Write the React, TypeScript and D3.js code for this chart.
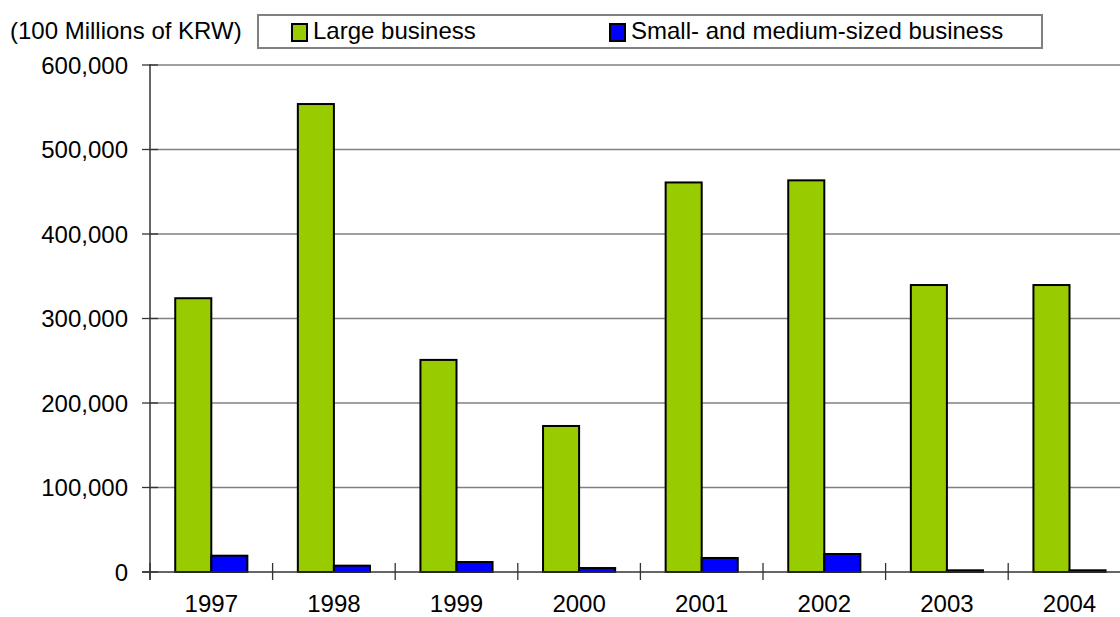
import React from "react";
import * as d3 from "d3";

const years = ["1997", "1998", "1999", "2000", "2001", "2002", "2003", "2004"];
const largeBusiness = [324000, 553800, 251000, 172800, 461000, 463500, 339600, 339600];
const smeBusiness = [19300, 7500, 11800, 4700, 16600, 21300, 2000, 2000];
const seriesNames = ["Large business", "Small- and medium-sized business"];
const seriesColors = ["#99CC00", "#0000FF"];
const yTicks = [0, 100000, 200000, 300000, 400000, 500000, 600000];
const unitLabel = "(100 Millions of KRW)";

export default function App() {
  const W = 1120;
  const H = 617;
  const x0 = 150;
  const step = 122.6;
  const x = d3.scaleBand<string>().domain(years).range([x0, x0 + step * years.length]).padding(0);
  const xs = d3
    .scaleBand<string>()
    .domain(seriesNames)
    .range([0, x.bandwidth()])
    .paddingInner(0)
    .paddingOuter(0.7);
  const y = d3.scaleLinear().domain([0, 600000]).range([572, 65]);
  const fmt = d3.format(",");
  const font = "'Liberation Sans', Arial, sans-serif";
  const fs = 24;
  const series = [largeBusiness, smeBusiness];

  return (
    <svg
      width={W}
      height={H}
      style={{ position: "absolute", left: 0, top: 0, background: "#fff" }}
      fontFamily={font}
    >
      {yTicks.slice(1).map((t) => (
        <line key={t} x1={x0} x2={W} y1={y(t)} y2={y(t)} stroke="#808080" strokeWidth={1.3} />
      ))}
      {yTicks.map((t) => (
        <g key={"yt" + t}>
          <line x1={x0 - 8} x2={x0 + 8} y1={y(t)} y2={y(t)} stroke="#333" strokeWidth={1.3} />
          <text x={128} y={y(t)} dy="0.36em" textAnchor="end" fontSize={fs} fill="#000">
            {fmt(t)}
          </text>
        </g>
      ))}
      {years.map((yr, i) => (
        <g key={yr}>
          {series.map((vals, s) => {
            const bx = (x(yr) as number) + (xs(seriesNames[s]) as number);
            const top = y(vals[i]);
            return (
              <rect
                key={s}
                x={bx}
                y={top}
                width={xs.bandwidth()}
                height={y(0) - top}
                fill={seriesColors[s]}
                stroke="#000"
                strokeWidth={2}
              />
            );
          })}
        </g>
      ))}
      <line x1={x0} x2={x0} y1={y(600000) - 1} y2={y(0) + 8} stroke="#333" strokeWidth={1.5} />
      <line x1={x0 - 8} x2={W} y1={y(0)} y2={y(0)} stroke="#333" strokeWidth={1.5} />
      {years.map((yr) => (
        <line
          key={"xt" + yr}
          x1={x(yr) as number}
          x2={x(yr) as number}
          y1={y(0) - 9}
          y2={y(0) + 8}
          stroke="#333"
          strokeWidth={1.3}
        />
      ))}
      {years.map((yr) => (
        <text
          key={"xl" + yr}
          x={(x(yr) as number) + x.bandwidth() / 2}
          y={612}
          textAnchor="middle"
          fontSize={fs}
          fill="#000"
        >
          {yr}
        </text>
      ))}
      <text x={10} y={39} fontSize={fs} fill="#000">
        {unitLabel}
      </text>
      <rect x={258} y={15} width={784} height={33} fill="#fff" stroke="#808080" strokeWidth={2} />
      {seriesNames.map((n, s) => {
        const lx = s === 0 ? 292 : 610;
        return (
          <g key={n}>
            <rect x={lx} y={24} width={15} height={17} fill={seriesColors[s]} stroke="#000" strokeWidth={2} />
            <text x={lx + 21} y={39} fontSize={fs} fill="#000">
              {n}
            </text>
          </g>
        );
      })}
    </svg>
  );
}
